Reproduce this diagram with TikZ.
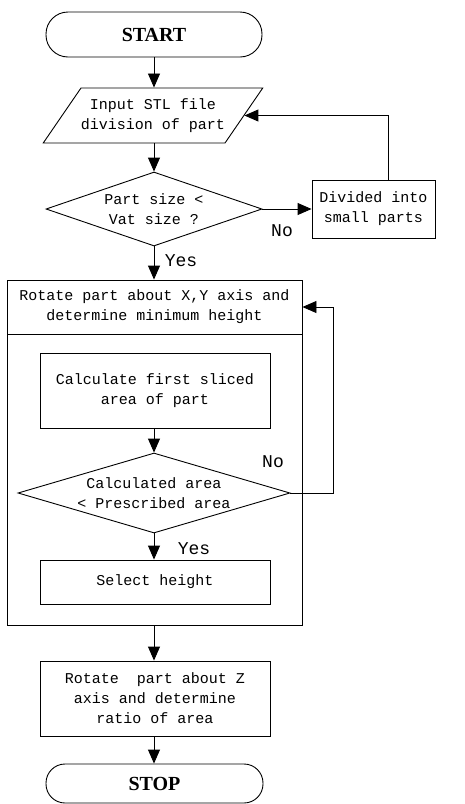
\documentclass[tikz,border=0pt]{standalone}
\usepackage{fontspec}
\setmainfont{Liberation Serif}
\setmonofont{Liberation Mono}
\usetikzlibrary{shapes.geometric,arrows.meta,calc}
\begin{document}
\begin{tikzpicture}[x=1pt,y=-1pt,
  base/.style={draw, line width=0.9pt, font=\ttfamily\fontsize{15}{20}\selectfont, align=center, inner sep=0pt},
  term/.style={base, rectangle, font=\bfseries\fontsize{20}{24}\selectfont},
  box/.style={base, rectangle},
  dec/.style={base, diamond},
  io/.style={base, trapezium, trapezium left angle=42, trapezium right angle=138, trapezium stretches body},
  arr/.style={-{Triangle[length=14pt,width=12pt]}, line width=0.9pt},
  lab/.style={font=\ttfamily\fontsize{18}{20}\selectfont, inner sep=0pt}]
\useasboundingbox (0,0) rectangle (464,804);

\node[term, rounded corners=22pt, minimum width=216pt, minimum height=45pt] (start) at (154,34.5) {START};
\node[io, minimum width=216pt, minimum height=55pt] (inp) at (153,115.5) {Input STL file\\division of part};
\node[dec, shape aspect=2.92, minimum width=216pt, minimum height=74pt] (d1) at (154,209) {Part size <\\Vat size ?};
\node[box, minimum width=123pt, minimum height=58pt] (div) at (373.5,209) {Divided into\\small parts};

\node[box, minimum width=295pt, minimum height=345pt] (outer) at (154.5,452.5) {};
\node[box, minimum width=295pt, minimum height=54pt] (rot) at (154.5,307) {Rotate part about X,Y axis and\\determine minimum height};

\node[box, minimum width=230pt, minimum height=75pt] (calc) at (155,390.5) {Calculate first sliced\\area of part};
\node[dec, shape aspect=3.4, minimum width=272pt, minimum height=80pt] (d2) at (154,493) {Calculated area\\< Prescribed area};
\node[box, minimum width=230pt, minimum height=44pt] (sel) at (155,582) {Select height};

\node[box, minimum width=230pt, minimum height=75pt] (rz) at (155,698.5) {Rotate\ \ part about Z\\axis and determine\\ratio of area};
\node[term, rounded corners=19pt, minimum width=217pt, minimum height=39pt] (stop) at (154.5,783.5) {STOP};

\draw[arr] (start.south) -- (start.south |- inp.north);
\draw[arr] (d1.north |- inp.south) -- (d1.north);
\draw[arr] (d1.east) -- (div.west);
\draw[arr] ($(div.north)+(14.5,0)$) |- (inp.east);
\draw[arr] (d1.south) -- (d1.south |- outer.north);
\draw[arr] (d2.north |- calc.south) -- (d2.north);
\draw[arr] (d2.south) -- (d2.south |- sel.north);
\draw[arr] (d2.east) -- ++(43,0) |- (rot.east);
\draw[arr] (d2.south |- outer.south) -- (d2.south |- rz.north);
\draw[arr] (d2.south |- rz.south) -- (d2.south |- stop.north);

\node[lab] (no1) at (282,231) {No};
\node[lab] (yes1) at (181,261) {Yes};
\node[lab] (no2) at (273,462) {No};
\node[lab] (yes2) at (194,549) {Yes};
\end{tikzpicture}
\end{document}
